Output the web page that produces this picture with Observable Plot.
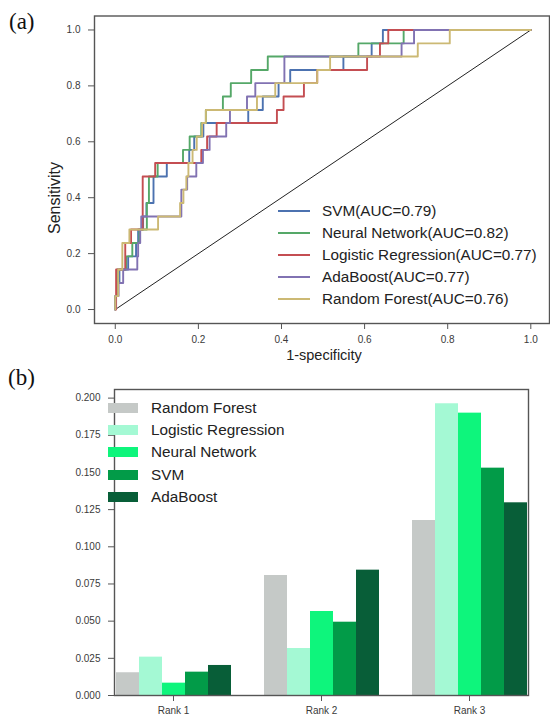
<!DOCTYPE html>
<html>
<head>
<meta charset="utf-8">
<script src="https://cdn.jsdelivr.net/npm/d3@7"></script>
<script src="https://cdn.jsdelivr.net/npm/@observablehq/plot@0.6"></script>
<style>
  html, body { margin: 0; padding: 0; background: #fff; }
  #root { position: relative; width: 550px; height: 717px; overflow: hidden; font-family: "Liberation Sans", Arial, sans-serif; }
  #root svg { display: block; }
  .abs { position: absolute; white-space: nowrap; }
  .panel { font-family: "Liberation Serif", "Times New Roman", serif; font-size: 23px; color: #111; line-height: 1; }
  .title { font-size: 14.5px; color: #222; line-height: 1; }
  .leg { position: absolute; font-size: 15.3px; color: #222; }
  .leg .row { display: flex; align-items: center; height: 21.9px; }
</style>
</head>
<body>
<div id="root">
  <div id="plotA"></div>
  <div id="plotB"></div>
</div>
<script>
// ---------- Panel (a): ROC curves ----------
const rocModels = ["SVM", "Neural Network", "Logistic Regression", "AdaBoost", "Random Forest"];
const rocLabels = ["SVM(AUC=0.79)", "Neural Network(AUC=0.82)", "Logistic Regression(AUC=0.77)", "AdaBoost(AUC=0.77)", "Random Forest(AUC=0.76)"];
const rocColors = ["#4c72b0", "#55a868", "#c44e52", "#8172b2", "#ccb974"];

// step points: at fpr x the sensitivity rises to y
const svmFpr = [0, 0, 0.005, 0.01, 0.031, 0.05, 0.055, 0.067, 0.075, 0.092, 0.124, 0.178, 0.19, 0.212, 0.32, 0.355, 0.393, 0.421, 0.549, 0.617, 0.644, 1.0];
const svmTpr = [0, 0.048, 0.095, 0.143, 0.19, 0.238, 0.286, 0.333, 0.381, 0.476, 0.524, 0.571, 0.619, 0.667, 0.714, 0.762, 0.81, 0.857, 0.905, 0.952, 1.0, 1.0];

const nnFpr = [0, 0, 0.005, 0.026, 0.041, 0.058, 0.076, 0.081, 0.102, 0.163, 0.179, 0.207, 0.218, 0.259, 0.278, 0.327, 0.367, 0.585, 0.694, 1.0];
const nnTpr = [0, 0.048, 0.143, 0.19, 0.238, 0.286, 0.381, 0.476, 0.524, 0.571, 0.619, 0.667, 0.714, 0.762, 0.81, 0.857, 0.905, 0.952, 1.0, 1.0];

const lrFpr = [0, 0.002, 0.024, 0.038, 0.066, 0.096, 0.207, 0.221, 0.244, 0.389, 0.405, 0.454, 0.486, 0.606, 0.637, 0.657, 1.0];
const lrTpr = [0, 0.143, 0.238, 0.286, 0.476, 0.524, 0.571, 0.619, 0.667, 0.714, 0.762, 0.81, 0.857, 0.905, 0.952, 1.0, 1.0];

const adaFpr = [0, 0, 0.008, 0.019, 0.053, 0.055, 0.06, 0.0625, 0.159, 0.173, 0.195, 0.211, 0.227, 0.267, 0.276, 0.317, 0.337, 0.407, 0.689, 0.719, 1.0];
const adaTpr = [0, 0.048, 0.095, 0.143, 0.19, 0.238, 0.286, 0.333, 0.429, 0.476, 0.524, 0.571, 0.619, 0.667, 0.714, 0.762, 0.81, 0.905, 0.952, 1.0, 1.0];

const rfFpr = [0, 0, 0.007, 0.017, 0.034, 0.103, 0.156, 0.164, 0.171, 0.176, 0.186, 0.196, 0.209, 0.218, 0.341, 0.385, 0.486, 0.517, 0.728, 0.805, 1.0];
const rfTpr = [0, 0.048, 0.143, 0.238, 0.286, 0.333, 0.381, 0.429, 0.476, 0.524, 0.571, 0.619, 0.667, 0.714, 0.762, 0.81, 0.857, 0.905, 0.952, 1.0, 1.0];

const diagX = [0, 1];
const diagY = [0, 1];
const rocTicks = [0, 0.2, 0.4, 0.6, 0.8, 1.0];

// ---------- Panel (b): grouped bars ----------
const ranks = ["Rank 1", "Rank 2", "Rank 3"];
const barModels = ["Random Forest", "Logistic Regression", "Neural Network", "SVM", "AdaBoost"];
const barColors = ["#c5c9c7", "#a4f9d4", "#0ef57c", "#029b48", "#085e38"];
const rfVals  = [0.0153, 0.0807, 0.1177];
const lrVals  = [0.0258, 0.0316, 0.1962];
const nnVals  = [0.0083, 0.0565, 0.1899];
const svmVals = [0.0157, 0.0493, 0.1529];
const adaVals = [0.0202, 0.0843, 0.1296];
const barTicks = [0, 0.025, 0.05, 0.075, 0.1, 0.125, 0.15, 0.175, 0.2];

// ---------- build ----------
const rocSeries = [[svmFpr, svmTpr], [nnFpr, nnTpr], [lrFpr, lrTpr], [adaFpr, adaTpr], [rfFpr, rfTpr]];
const diag = diagX.map((x, i) => ({x, y: diagY[i]}));
const font = "Liberation Sans, Arial, sans-serif";

const plotA = Plot.plot({
  width: 550, height: 362,
  marginLeft: 94, marginRight: 1, marginTop: 15.5, marginBottom: 39,
  style: {fontFamily: font, fontSize: "10px", color: "#3a3a3a", background: "white"},
  x: {domain: [-0.05, 1.045]},
  y: {domain: [-0.05, 1.05]},
  marks: [
    Plot.axisX({ticks: rocTicks, tickFormat: d3.format(".1f"), tickSize: 6, tickPadding: 6, label: null, stroke: "#555"}),
    Plot.axisY({ticks: rocTicks, tickFormat: d3.format(".1f"), tickSize: 6, tickPadding: 8, label: null, stroke: "#555"}),
    Plot.line(diag, {x: "x", y: "y", stroke: "#222", strokeWidth: 1}),
    ...rocSeries.map(([fx, ty], i) => Plot.line(fx.map((x, j) => ({x, y: ty[j]})), {
      x: "x", y: "y", curve: "step-after", stroke: rocColors[i], strokeWidth: 1.9
    })),
    Plot.frame({stroke: "#555", strokeWidth: 1.4})
  ]
});
document.getElementById("plotA").appendChild(plotA);

const valsByModel = [rfVals, lrVals, nnVals, svmVals, adaVals];
const rows = [];
ranks.forEach((r, i) => barModels.forEach((m, j) => rows.push({rank: r, model: m, value: valsByModel[j][i]})));

const plotB = Plot.plot({
  width: 550, height: 355,
  marginLeft: 94, marginRight: 1, marginTop: 27, marginBottom: 22,
  style: {fontFamily: font, fontSize: "10px", color: "#3a3a3a", background: "white"},
  fx: {domain: ranks, paddingInner: 0.2, paddingOuter: 0.136, label: null},
  x: {domain: barModels, padding: 0, axis: null},
  y: {domain: [0, 0.2058]},
  color: {domain: barModels, range: barColors},
  marks: [
    Plot.barY(rows, {fx: "rank", x: "model", y: "value", fill: "model", inset: 0}),
    Plot.axisFx({anchor: "bottom", tickSize: 6, tickPadding: 5, label: null, stroke: "#555"}),
    Plot.axisY({ticks: barTicks, tickFormat: d3.format(".3f"), tickSize: 6, tickPadding: 8, label: null, stroke: "#555"}),
    Plot.frame({facet: "super", stroke: "#555", strokeWidth: 1.4})
  ]
});
document.getElementById("plotB").appendChild(plotB);

// ---------- overlays (titles, legends) ----------
const root = document.getElementById("root");
function addDiv(cls, text, css) {
  const d = document.createElement("div");
  d.className = cls;
  if (text != null) d.textContent = text;
  Object.assign(d.style, css);
  root.appendChild(d);
  return d;
}
addDiv("abs panel", "(a)", {left: "9px", top: "10px"});
addDiv("abs panel", "(b)", {left: "8px", top: "366px"});
addDiv("abs title", "Sensitivity", {left: "55px", top: "198px", transform: "translate(-50%,-50%) rotate(-90deg)", fontSize: "16px"});
addDiv("abs title", "1-specificity", {left: "324px", top: "355px", transform: "translate(-50%,-50%)"});

const legA = addDiv("leg", null, {left: "278px", top: "200px"});
rocLabels.forEach((lab, i) => {
  const row = document.createElement("div");
  row.className = "row";
  row.innerHTML = `<span style="display:inline-block;width:32px;height:2px;background:${rocColors[i]};margin-right:12px"></span><span>${lab}</span>`;
  legA.appendChild(row);
});
const legB = addDiv("leg", null, {left: "108px", top: "397px"});
barModels.forEach((lab, i) => {
  const row = document.createElement("div");
  row.className = "row";
  row.style.height = "22.2px";
  row.innerHTML = `<span style="display:inline-block;width:30px;height:10px;background:${barColors[i]};margin-right:13px"></span><span>${lab}</span>`;
  legB.appendChild(row);
});
</script>
</body>
</html>
